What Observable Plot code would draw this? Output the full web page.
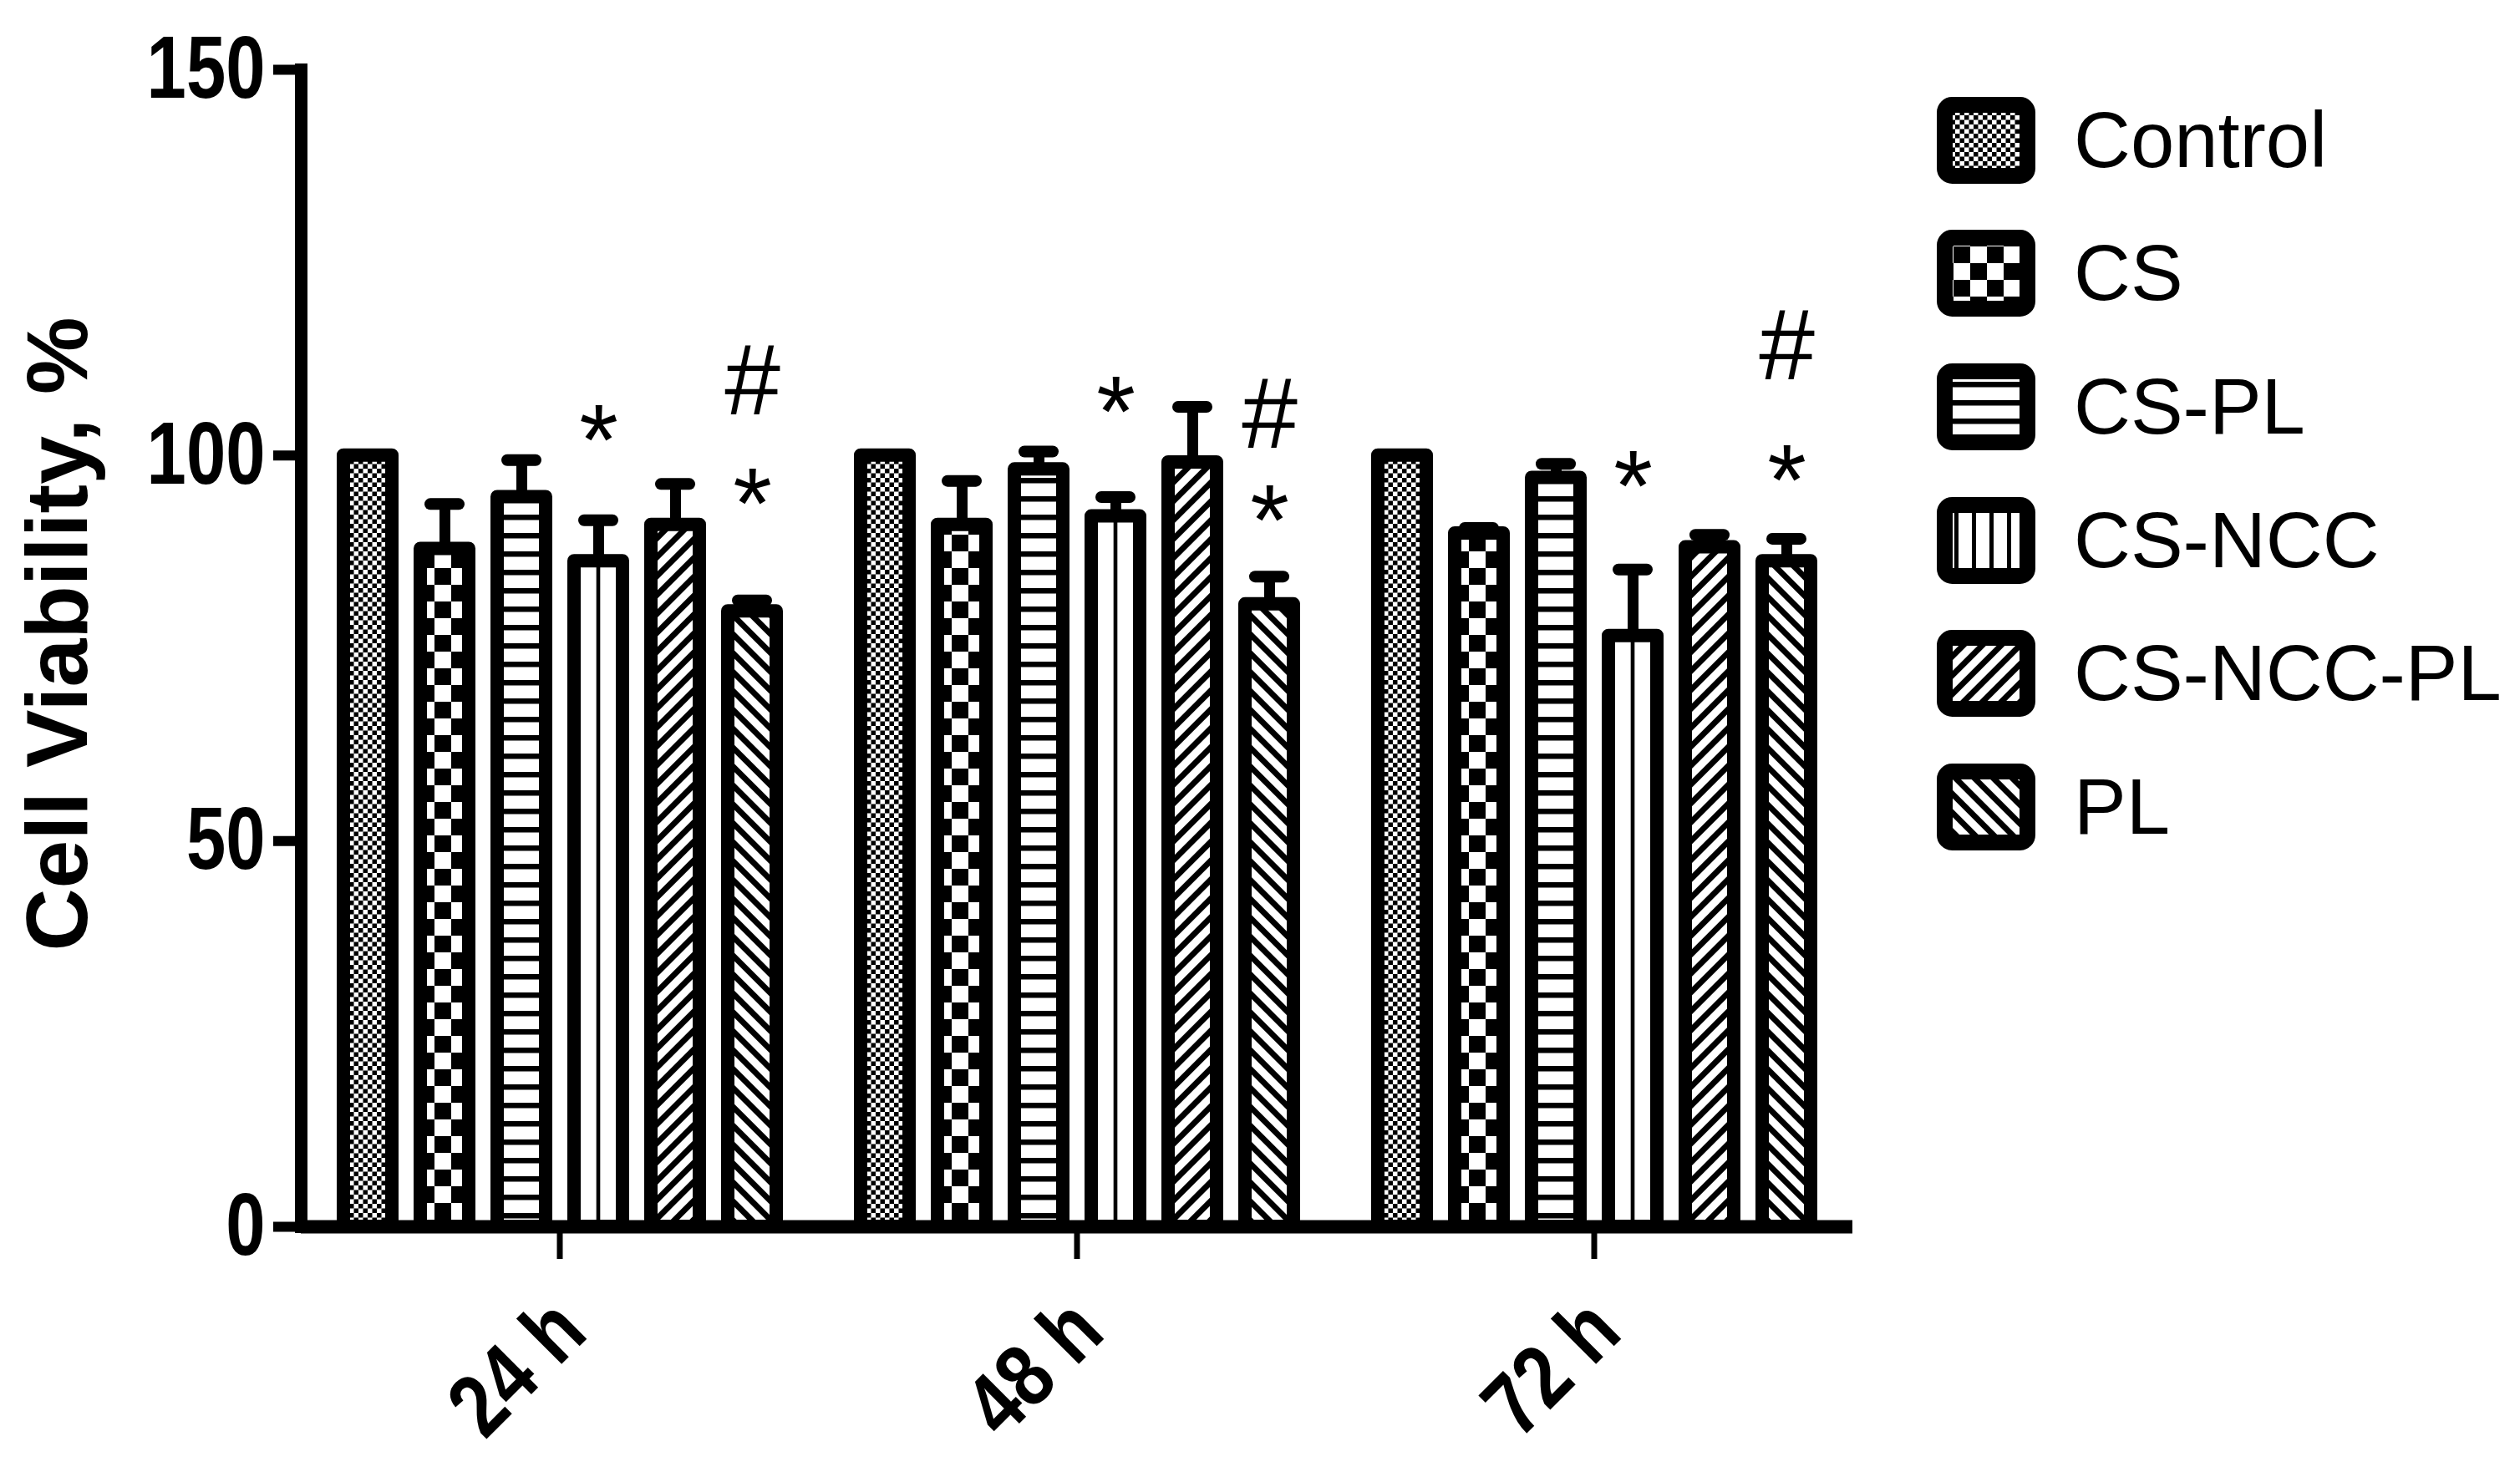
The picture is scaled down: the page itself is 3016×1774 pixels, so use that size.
<!DOCTYPE html>
<html>
<head>
<meta charset="utf-8">
<script src="https://cdn.jsdelivr.net/npm/d3@7"></script>
<script src="https://cdn.jsdelivr.net/npm/@observablehq/plot@0.6"></script>
<style>
  html, body { margin: 0; padding: 0; background: #fff; }
  #wrap { position: relative; width: 3016px; height: 1774px; overflow: hidden; font-family: "Liberation Sans", Arial, sans-serif; }
  #chart { position: absolute; left: 0; top: 0; }
  #legend { position: absolute; left: 2318px; top: 88px; }
  .row { display: flex; align-items: center; height: 159.6px; }
  .row svg { display: block; flex: none; }
  .row span { margin-left: 46px; font-size: 94px; line-height: 1; color: #000; white-space: nowrap; }
</style>
</head>
<body>
<div id="wrap">
  <svg width="0" height="0" style="position:absolute;left:0;top:0">
    <defs>
      <pattern id="p-control" width="11" height="11" patternUnits="userSpaceOnUse">
        <rect width="11" height="11" fill="#fff"/>
        <rect width="5.5" height="5.5" fill="#000"/>
        <rect x="5.5" y="5.5" width="5.5" height="5.5" fill="#000"/>
      </pattern>
      <pattern id="p-cs" width="40" height="40" patternUnits="userSpaceOnUse">
        <rect width="40" height="40" fill="#fff"/>
        <rect width="20" height="20" fill="#000"/>
        <rect x="20" y="20" width="20" height="20" fill="#000"/>
      </pattern>
      <pattern id="p-cspl" width="22" height="22" patternUnits="userSpaceOnUse">
        <rect width="22" height="22" fill="#fff"/>
        <rect width="22" height="6.5" fill="#000"/>
      </pattern>
      <pattern id="p-csncc" width="1" height="1" patternUnits="objectBoundingBox" patternContentUnits="objectBoundingBox">
        <rect width="1" height="1" fill="#fff"/>
        <rect x="0.46" width="0.08" height="1" fill="#000"/>
      </pattern>
      <pattern id="p-csncc-leg" width="21" height="10" patternUnits="userSpaceOnUse">
        <rect width="21" height="10" fill="#fff"/>
        <rect x="0" width="5" height="10" fill="#000"/>
      </pattern>
      <pattern id="p-csnccpl" width="16" height="16" patternUnits="userSpaceOnUse" patternTransform="rotate(45)">
        <rect width="16" height="16" fill="#fff"/>
        <rect width="7" height="16" fill="#000"/>
      </pattern>
      <pattern id="p-pl" width="16" height="16" patternUnits="userSpaceOnUse" patternTransform="rotate(-45)">
        <rect width="16" height="16" fill="#fff"/>
        <rect width="7" height="16" fill="#000"/>
      </pattern>
    </defs>
  </svg>
  <div id="chart"></div>
  <div id="legend"></div>
</div>
<script>
// ---- data ----
const times = ["24 h", "48 h", "72 h"];
const groups = ["Control", "CS", "CS-PL", "CS-NCC", "CS-NCC-PL", "PL"];
const mean24 = [100, 87.9, 94.6, 86.3, 91.0, 79.8];
const sd24   = [0,   5.8,  4.8,  5.3,  5.3,  1.4];
const mean48 = [100, 91.0, 98.2, 92.1, 99.1, 80.7];
const sd48   = [0,   5.7,  2.3,  2.5,  7.2,  3.6];
const mean72 = [100, 89.9, 97.1, 76.6, 88.1, 86.3];
const sd72   = [0,   0.7,  1.8,  8.6,  1.6,  2.9];
const yTicks = [0, 50, 100, 150];
const annotTime   = ["24 h", "24 h", "24 h", "48 h", "48 h", "48 h", "72 h", "72 h", "72 h"];
const annotGroup  = ["CS-NCC", "PL", "PL", "CS-NCC", "PL", "PL", "CS-NCC", "PL", "PL"];
const annotSymbol = ["*", "#", "*", "*", "#", "*", "*", "#", "*"];
const annotY      = [104.9, 109.5, 96.7, 108.6, 105.1, 94.5, 99.0, 114.0, 99.7];
const barPatterns    = ["url(#p-control)", "url(#p-cs)", "url(#p-cspl)", "url(#p-csncc)", "url(#p-csnccpl)", "url(#p-pl)"];
const legendPatterns = ["url(#p-control)", "url(#p-cs)", "url(#p-cspl)", "url(#p-csncc-leg)", "url(#p-csnccpl)", "url(#p-pl)"];
const yLabel = "Cell Viability, %";

// ---- tables ----
const meansByTime = [mean24, mean48, mean72];
const sdsByTime = [sd24, sd48, sd72];
const rows = times.flatMap((t, i) => groups.map((g, j) => ({time: t, group: g, mean: meansByTime[i][j], sd: sdsByTime[i][j]})));
const errRows = rows.filter(d => d.sd > 0);
const annots = annotTime.map((t, i) => ({time: t, group: annotGroup[i], symbol: annotSymbol[i], y: annotY[i]}));

const regular = "'Liberation Sans', Arial, sans-serif";

const chart = Plot.plot({
  width: 3016,
  height: 1774,
  marginTop: 83,
  marginBottom: 306,
  marginLeft: 360,
  marginRight: 799,
  style: {background: "white", color: "black", fontFamily: regular, overflow: "visible"},
  fx: {domain: times, paddingInner: 0, paddingOuter: 0, label: null},
  x: {domain: groups, paddingInner: 0.37, paddingOuter: 0.5165, axis: null},
  y: {domain: [0, 150], label: null},
  color: {type: "ordinal", domain: groups, range: barPatterns, legend: false},
  marks: [
    Plot.barY(rows, {fx: "time", x: "group", y: "mean", fill: "group", stroke: "black", strokeWidth: 16, strokeLinejoin: "round"}),
    Plot.ruleX(errRows, {fx: "time", x: "group", y1: "mean", y2: d => d.mean + d.sd, stroke: "black", strokeWidth: 13}),
    Plot.tickY(errRows, {fx: "time", x: "group", y: d => d.mean + d.sd, stroke: "black", strokeWidth: 14, strokeLinecap: "round", insetLeft: 12, insetRight: 12}),
    Plot.text(annots.filter(d => d.symbol === "*"), {fx: "time", x: "group", y: "y", text: "symbol", fontSize: 120, fontFamily: regular, dy: 30}),
    Plot.text(annots.filter(d => d.symbol === "#"), {fx: "time", x: "group", y: "y", text: "symbol", fontSize: 120, fontFamily: regular}),
    Plot.ruleY([0], {stroke: "black", strokeWidth: 16}),
    Plot.frame({anchor: "left", facetAnchor: "left", stroke: "black", strokeWidth: 15, strokeLinecap: "square"}),
    Plot.axisY({ticks: yTicks, tickSize: 33, tickPadding: 10, strokeWidth: 12, fontSize: 105, fontWeight: "bold", fontFamily: regular, label: null}),
    Plot.text([yLabel], {frameAnchor: "left", facetAnchor: "left", rotate: -90, textAnchor: "middle", lineAnchor: "top", dx: -330, dy: -17, fontSize: 104, fontWeight: "bold", fontFamily: regular}),
    Plot.axisFx({anchor: "bottom", tickSize: 39, strokeWidth: 7, tickFormat: () => "", label: null}),
    Plot.text(times, {fx: d => d, text: d => d, frameAnchor: "bottom", rotate: -45, textAnchor: "end", lineAnchor: "top", dx: -17, dy: 77, fontSize: 106, fontWeight: "bold", fontFamily: regular, className: "fx-label"})
  ]
});
document.getElementById("chart").appendChild(chart);

// narrow (condensed) look of the original tick labels
function condense(selection, ratio) {
  selection.each(function () {
    const len = this.getComputedTextLength();
    if (len > 0) {
      this.setAttribute("textLength", (len * ratio).toFixed(1));
      this.setAttribute("lengthAdjust", "spacingAndGlyphs");
    }
  });
}
condense(d3.select(chart).selectAll('g[aria-label="y-axis tick label"] text'), 0.81);
condense(d3.select(chart).selectAll('g.fx-label text, .fx-label text'), 0.84);

// ---- legend ----
const legend = d3.select("#legend");
groups.forEach((g, i) => {
  const row = legend.append("div").attr("class", "row");
  const svg = row.append("svg").attr("width", 118).attr("height", 104);
  svg.append("rect").attr("x", 9.5).attr("y", 9.5).attr("width", 99).attr("height", 85)
    .attr("rx", 9).attr("fill", legendPatterns[i]).attr("stroke", "#000").attr("stroke-width", 19);
  row.append("span").text(g);
});
</script>
</body>
</html>
